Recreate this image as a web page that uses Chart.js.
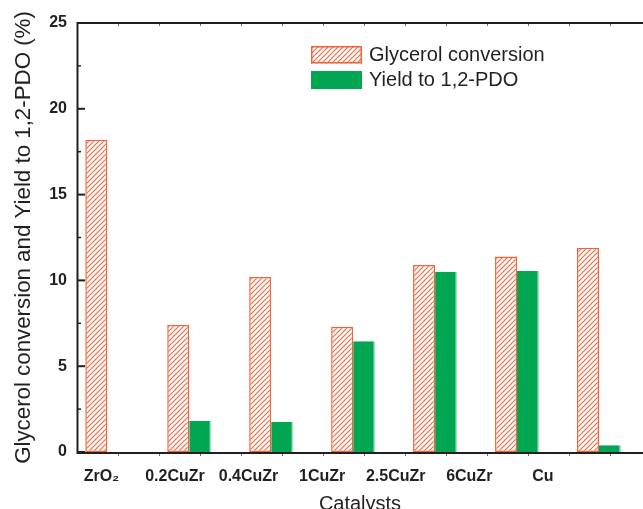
<!DOCTYPE html>
<html>
<head>
<meta charset="utf-8">
<script src="https://cdn.jsdelivr.net/npm/chart.js@4/dist/chart.umd.min.js"></script>
<style>
  html, body { margin: 0; padding: 0; background: #ffffff; }
  #wrap { width: 643px; height: 509px; }
</style>
</head>
<body>
<div id="wrap"><canvas id="c" width="643" height="509"></canvas></div>
<script>
// ---- data ----
const categories = ['ZrO\u2082', '0.2CuZr', '0.4CuZr', '1CuZr', '2.5CuZr', '6CuZr', 'Cu'];
const glycerolConversion = [18.2, 7.4, 10.2, 7.3, 10.9, 11.4, 11.9];
const yieldPdo = [0, 1.8, 1.75, 6.45, 10.5, 10.55, 0.4];
const seriesNames = ['Glycerol conversion', 'Yield to 1,2-PDO'];
const yTickValues = [0, 5, 10, 15, 20, 25];

// ---- styles ----
const ORANGE = '#f0643c';
const GREEN = '#00a651';
const INK = '#231f20';
const FONT = '"Liberation Sans", Arial, sans-serif';

function makeHatch() {
  const s = 5;
  const c = document.createElement('canvas');
  c.width = s; c.height = s;
  const g = c.getContext('2d');
  g.fillStyle = '#ffffff';
  g.fillRect(0, 0, s, s);
  g.strokeStyle = ORANGE;
  g.lineWidth = 1.1;
  g.beginPath();
  g.moveTo(-1, s + 1); g.lineTo(s + 1, -1);
  g.moveTo(-1, 1); g.lineTo(1, -1);
  g.moveTo(s - 1, s + 1); g.lineTo(s + 1, s - 1);
  g.stroke();
  return g.createPattern(c, 'repeat');
}
const hatch = makeHatch();

const idx = categories.map((_, i) => i + 1);
const convData = glycerolConversion.map((v, i) => ({ x: idx[i], y: v }));
const yieldData = yieldPdo.map((v, i) => ({ x: idx[i], y: v }));

const framePlugin = {
  id: 'frame',
  afterDatasetsDraw(chart) {
    const { ctx, chartArea: a, scales } = chart;
    const ys = scales.y, xs = scales.x;
    ctx.save();
    ctx.strokeStyle = INK;
    ctx.lineCap = 'butt';
    // y ticks inward (major every 5, minor every 2.5)
    for (let v = 0; v <= 25 + 1e-9; v += 2.5) {
      const py = ys.getPixelForValue(v);
      const major = Math.abs(v / 5 - Math.round(v / 5)) < 1e-6;
      ctx.lineWidth = major ? 2 : 1.5;
      ctx.beginPath();
      ctx.moveTo(a.left, py);
      ctx.lineTo(a.left + (major ? 8 : 4), py);
      ctx.stroke();
    }
    // x ticks (small, every half unit from the axis start)
    ctx.strokeStyle = '#6d6e71';
    ctx.lineWidth = 1;
    for (let v = xs.min + 0.5; v <= xs.max; v += 0.5) {
      const px = Math.round(xs.getPixelForValue(v)) + 0.5;
      ctx.beginPath();
      ctx.moveTo(px, a.bottom + 1); ctx.lineTo(px, a.bottom + 4);
      ctx.moveTo(px, a.top); ctx.lineTo(px, a.top + 3);
      ctx.stroke();
    }
    // frame lines
    ctx.strokeStyle = INK;
    ctx.lineWidth = 2;
    ctx.beginPath();
    ctx.moveTo(a.left + 0.5, a.top);
    ctx.lineTo(a.left + 0.5, a.bottom + 2);
    ctx.moveTo(a.left - 0.5, a.bottom + 1);
    ctx.lineTo(a.right, a.bottom + 1);
    ctx.moveTo(a.left - 0.5, a.top);
    ctx.lineTo(a.right, a.top);
    ctx.stroke();

    // legend
    const ds = chart.data.datasets;
    const bx = 311, bw = 51;
    const rows = [{ y: 46, h: 17.5 }, { y: 71, h: 18 }];
    ctx.font = '20px ' + FONT;
    ctx.textBaseline = 'middle';
    ctx.textAlign = 'left';
    ds.forEach((d, i) => {
      const r = rows[i];
      if (i === 0) {
        ctx.fillStyle = hatch;
        ctx.fillRect(bx, r.y, bw, r.h);
        ctx.strokeStyle = ORANGE;
        ctx.lineWidth = 1.5;
        ctx.strokeRect(bx + 0.75, r.y + 0.75, bw - 1.5, r.h - 1.5);
      } else {
        ctx.fillStyle = GREEN;
        ctx.fillRect(bx, r.y, bw, r.h);
      }
      ctx.fillStyle = INK;
      ctx.fillText(d.label, 369, r.y + r.h / 2 + 0.5);
    });
    ctx.restore();
  }
};

new Chart(document.getElementById('c'), {
  type: 'bar',
  data: {
    datasets: [
      {
        label: seriesNames[0],
        data: convData,
        xAxisID: 'x',
        backgroundColor: hatch,
        borderColor: ORANGE,
        borderWidth: 1.5,
        borderSkipped: false,
        categoryPercentage: 0.537,
        barPercentage: 1
      },
      {
        label: seriesNames[1],
        data: yieldData,
        xAxisID: 'x',
        backgroundColor: GREEN,
        borderColor: 'rgba(0,166,81,0.35)',
        borderWidth: { top: 0, left: 0, bottom: 0, right: 1.5 },
        borderSkipped: false,
        categoryPercentage: 0.537,
        barPercentage: 1
      }
    ]
  },
  options: {
    responsive: false,
    animation: false,
    layout: { padding: { top: 23, right: 0, bottom: 0, left: 0 } },
    plugins: {
      legend: { display: false },
      tooltip: { enabled: false },
      title: { display: false }
    },
    scales: {
      x: {
        type: 'linear',
        display: false,
        bounds: 'data',
        min: 0.6303,
        max: 7.537,
        offset: false,
        afterBuildTicks: (s) => { s.ticks = idx.map(v => ({ value: v })); }
      },
      xl: {
        type: 'linear',
        position: 'bottom',
        bounds: 'data',
        min: 0.6683,
        max: 8.3617,
        offset: false,
        weight: 1,
        grid: { display: false, drawTicks: false, offset: false },
        border: { display: false },
        afterBuildTicks: (s) => { s.ticks = idx.map(v => ({ value: v })); },
        afterDataLimits: (s) => { s.min = 0.6683; s.max = 8.3617; },
        ticks: {
          autoSkip: false,
          maxRotation: 0,
          minRotation: 0,
          padding: 15,
          color: INK,
          font: { family: FONT, size: 16, weight: 'bold' },
          callback: (v) => {
            const i = Math.round(v) - 1;
            return categories[i] !== undefined ? categories[i] : '';
          }
        },
        title: {
          display: true,
          text: 'Catalysts',
          color: INK,
          padding: { top: 0, bottom: 0 },
          font: { family: FONT, size: 20, lineHeight: 0.5 }
        },
        afterFit: (s) => { s.height = 57; }
      },
      y: {
        type: 'linear',
        position: 'left',
        min: 0,
        max: 25,
        grid: { display: false, drawTicks: false },
        border: { display: false },
        afterBuildTicks: (s) => { s.ticks = yTickValues.map(v => ({ value: v })); },
        ticks: {
          padding: 10,
          color: INK,
          font: { family: FONT, size: 16, weight: 'bold' }
        },
        title: {
          display: true,
          text: 'Glycerol conversion and Yield to 1,2-PDO (%)',
          color: INK,
          padding: { top: 10, bottom: 0 },
          font: { family: FONT, size: 22.3 }
        },
        afterFit: (s) => { s.width = 77; }
      }
    }
  },
  plugins: [framePlugin]
});
</script>
</body>
</html>
